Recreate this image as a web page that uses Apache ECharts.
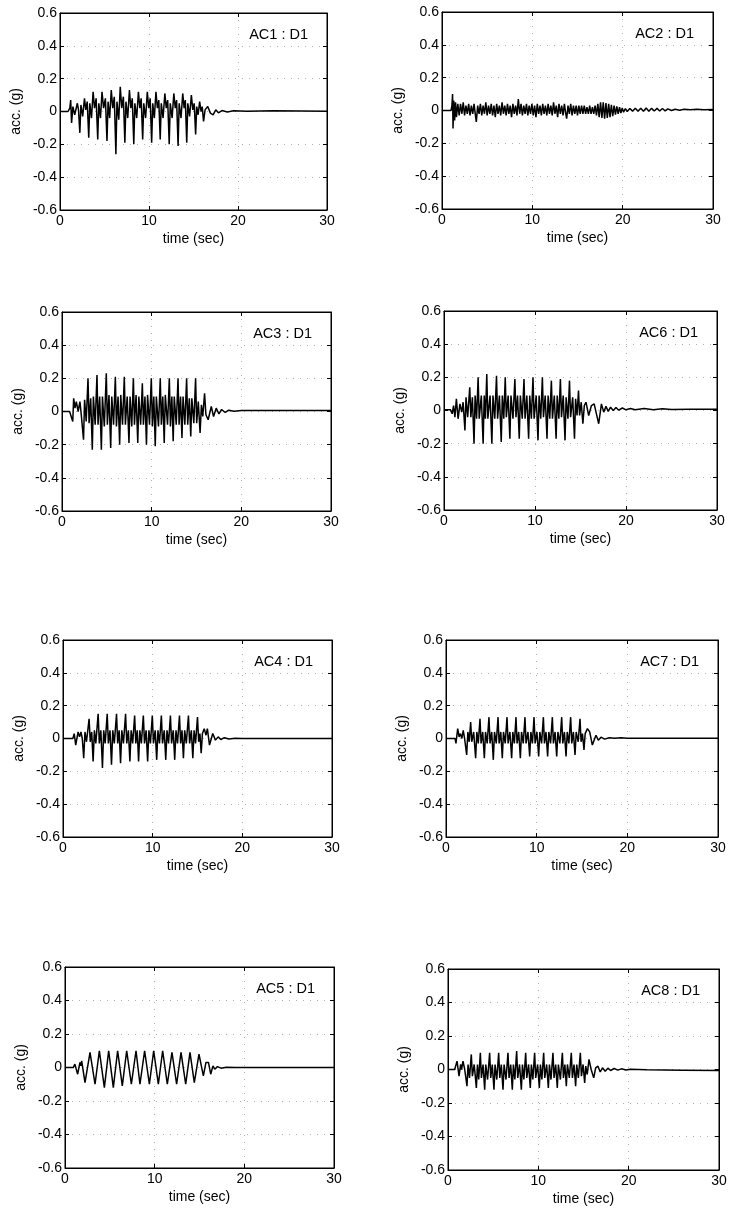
<!DOCTYPE html>
<html>
<head>
<meta charset="utf-8">
<title>acc time histories</title>
<script src="https://cdn.jsdelivr.net/npm/echarts@6/dist/echarts.min.js"></script>
<style>
html, body { margin: 0; padding: 0; background: #fff; }
#main { width: 742px; height: 1211px; }
</style>
</head>
<body>
<div id="main"></div>
<script>
// time (sec), acc. (g)
const ac1 = [[0,0],[0.9,0],[1.1,0.02],[1.2,0.07],[1.3,-0.07],[1.45,0.03],[1.65,-0.02],[1.95,0.05],[2.08,0.01],
  [2.23,-0.13],[2.35,0.04],[2.55,-0.03],[2.75,0.08],[2.9,0.01],[3.06,0.06],
  [3.23,-0.16],[3.35,0.05],[3.54,-0.04],[3.72,0.12],[3.88,0.02],[4.06,0.08],
  [4.24,-0.17],[4.36,0.05],[4.55,-0.04],[4.72,0.12],[4.9,0.02],[5.1,0.08],
  [5.28,-0.18],[5.4,0.06],[5.58,-0.04],[5.76,0.13],[5.93,0.02],[6.1,0.09],
  [6.28,-0.26],[6.4,0.06],[6.6,-0.05],[6.77,0.15],[6.94,0.02],[7.12,0.09],
  [7.29,-0.19],[7.41,0.06],[7.61,-0.04],[7.8,0.13],[7.96,0.02],[8.12,0.08],
  [8.29,-0.2],[8.41,0.05],[8.62,-0.04],[8.81,0.12],[8.97,0.02],[9.12,0.08],
  [9.29,-0.17],[9.41,0.05],[9.62,-0.04],[9.81,0.12],[9.97,0.02],[10.13,0.08],
  [10.3,-0.19],[10.42,0.05],[10.6,-0.04],[10.78,0.12],[10.94,0.02],[11.1,0.07],
  [11.26,-0.17],[11.38,0.05],[11.58,-0.04],[11.78,0.11],[11.94,0.02],[12.1,0.07],
  [12.27,-0.2],[12.39,0.05],[12.6,-0.04],[12.79,0.11],[12.95,0.02],[13.1,0.07],
  [13.27,-0.21],[13.39,0.05],[13.6,-0.04],[13.79,0.11],[13.95,0.02],[14.08,0.07],
  [14.24,-0.19],[14.36,0.05],[14.56,-0.03],[14.76,0.1],[14.92,0.01],[15.08,0.05],
  [15.24,-0.14],[15.36,0.03],[15.52,-0.02],[15.69,0.06],[15.85,0.0],[15.98,0.03],
  [16.13,-0.06],[16.3,0.01],[16.6,0.03],[16.9,-0.01],[17.2,-0.02],[17.5,0.01],[17.8,-0.008],[18.2,0.006],
  [18.8,-0.003],[19.5,0.004],[21,0.002],[24,0.004],[27,0.003],[30,0.002]];

const ac2 = [[0,0],[1.0,0],[1.1,0.03],[1.17,0.1],[1.22,-0.11],[1.3,0.06],[1.4,-0.06],[1.5,0.05],[1.6,-0.04],
  [1.75,0.04],[1.9,-0.03],[2.05,0.04],[2.2,-0.02],[2.35,0.05],[2.5,-0.03],[2.65,0.03],[2.8,-0.02],[2.95,0.04],
  [3.1,-0.03],[3.25,0.03],[3.4,-0.02],[3.55,0.04],[3.7,-0.03],[3.8,-0.07],[3.95,0.03],[4.1,-0.02],[4.25,0.04],
  [4.4,-0.03],[4.55,0.03],[4.7,-0.02],[4.85,0.05],[5.0,-0.03],[5.15,0.03],[5.3,-0.02],[5.45,0.04],[5.6,-0.03],
  [5.75,0.03],[5.9,-0.04],[6.05,0.04],[6.2,-0.02],[6.35,0.03],[6.5,-0.03],[6.65,0.05],[6.8,-0.02],[6.95,0.03],
  [7.1,-0.03],[7.25,0.04],[7.4,-0.02],[7.55,0.03],[7.7,-0.04],[7.85,0.04],[8.0,-0.02],[8.15,0.03],[8.3,-0.03],
  [8.45,0.07],[8.6,-0.02],[8.75,0.04],[8.9,-0.03],[9.05,0.03],[9.2,-0.02],[9.35,0.04],[9.5,-0.03],[9.65,0.03],
  [9.8,-0.02],[9.95,0.04],[10.1,-0.03],[10.25,0.03],[10.4,-0.04],[10.55,0.04],[10.7,-0.02],[10.85,0.03],
  [11.0,-0.03],[11.15,0.04],[11.3,-0.02],[11.45,0.03],[11.6,-0.03],[11.75,0.04],[11.9,-0.02],[12.05,0.03],
  [12.2,-0.03],[12.35,0.05],[12.5,-0.02],[12.65,0.03],[12.8,-0.04],[12.95,0.04],[13.1,-0.02],[13.25,0.03],
  [13.4,-0.03],[13.55,0.04],[13.7,-0.02],[13.8,-0.05],[13.95,0.03],[14.1,-0.02],[14.25,0.04],[14.4,-0.03],
  [14.55,0.03],[14.7,-0.02],[14.85,0.03],[15.0,-0.03],[15.15,0.03],[15.3,-0.02],[15.45,0.03],[15.6,-0.02],
  [15.75,0.03],[15.9,-0.02],[16.05,0.02],[16.2,-0.02],[16.35,0.03],[16.5,-0.02],[16.65,0.02],[16.8,-0.02],
  [16.95,0.03],[17.1,-0.03],[17.25,0.04],[17.4,-0.04],[17.55,0.05],[17.7,-0.045],[17.85,0.05],[18.0,-0.05],
  [18.15,0.045],[18.3,-0.045],[18.45,0.04],[18.6,-0.04],[18.75,0.035],[18.9,-0.035],[19.05,0.03],[19.2,-0.025],
  [19.35,0.025],[19.5,-0.02],[19.65,0.02],[19.8,-0.015],[19.95,0.015],[20.1,-0.01],[20.3,0.012],[20.5,-0.006],
  [20.8,0.012],[21.1,-0.004],[21.4,0.014],[21.7,-0.005],[22,0.014],[22.3,-0.004],[22.6,0.015],[22.9,-0.004],
  [23.2,0.014],[23.5,-0.003],[23.8,0.013],[24.1,-0.003],[24.4,0.012],[24.7,-0.002],[25,0.01],[25.4,0.0],
  [25.8,0.008],[26.3,0.002],[26.8,0.008],[27.5,0.004],[28.2,0.007],[29,0.005],[30,0.006]];

const ac3 = [[0,0],[0.85,0],[1.05,0.01],[1.2,-0.06],[1.3,0.08],[1.45,0.02],[1.6,0.06],[1.8,0.0],[2.0,0.06],[2.15,-0.02],
  [2.4,-0.17],[2.52,0.07],[2.7,-0.06],[2.9,0.2],[3.02,-0.07],[3.2,0.08],
  [3.38,-0.23],[3.5,0.09],[3.7,-0.08],[3.9,0.22],[4.02,-0.08],[4.2,0.09],
  [4.39,-0.23],[4.51,0.09],[4.72,-0.09],[4.94,0.23],[5.06,-0.08],[5.24,0.1],
  [5.43,-0.22],[5.55,0.09],[5.75,-0.08],[5.95,0.21],[6.07,-0.09],[6.25,0.09],
  [6.43,-0.2],[6.55,0.1],[6.75,-0.08],[6.95,0.21],[7.07,-0.08],[7.27,0.09],
  [7.47,-0.19],[7.59,0.09],[7.78,-0.09],[7.96,0.2],[8.08,-0.08],[8.26,0.1],
  [8.45,-0.19],[8.57,0.09],[8.77,-0.08],[8.96,0.17],[9.08,-0.08],[9.25,0.09],
  [9.42,-0.2],[9.54,0.1],[9.76,-0.08],[9.96,0.2],[10.08,-0.09],[10.24,0.09],
  [10.4,-0.21],[10.52,0.09],[10.76,-0.09],[10.96,0.2],[11.08,-0.08],[11.24,0.09],
  [11.4,-0.19],[11.52,0.1],[11.77,-0.08],[11.97,0.2],[12.09,-0.09],[12.25,0.09],
  [12.4,-0.18],[12.52,0.09],[12.74,-0.08],[12.94,0.2],[13.06,-0.08],[13.22,0.09],
  [13.38,-0.16],[13.5,0.09],[13.7,-0.08],[13.9,0.2],[14.02,-0.08],[14.2,0.08],
  [14.36,-0.15],[14.48,0.08],[14.7,-0.07],[14.9,0.2],[15.02,-0.07],[15.2,0.06],
  [15.4,-0.13],[15.55,0.04],[15.7,-0.03],[15.9,0.11],[16.05,-0.02],
  [16.3,-0.05],[16.65,0.03],[16.9,-0.03],[17.2,0.02],[17.5,-0.015],[17.8,0.012],[18.2,-0.006],[18.6,0.008],
  [19.2,0.002],[20,0.006],[23,0.006],[27,0.006],[30,0.006]];

const ac6 = [[0,0.005],[0.7,0.005],[0.9,-0.02],[1.05,0.03],[1.2,-0.04],[1.36,0.07],[1.55,-0.05],[1.75,0.04],[1.95,-0.01],[2.1,0.05],
  [2.3,-0.12],[2.42,0.08],[2.6,-0.04],[2.83,0.14],[2.95,-0.04],[3.12,0.08],
  [3.3,-0.2],[3.42,0.09],[3.58,-0.05],[3.75,0.2],[3.87,-0.05],[4.1,0.09],
  [4.3,-0.2],[4.42,0.09],[4.55,-0.05],[4.7,0.22],[4.82,-0.05],[5.06,0.09],
  [5.26,-0.2],[5.38,0.09],[5.58,-0.05],[5.77,0.21],[5.89,-0.05],[6.09,0.09],
  [6.29,-0.19],[6.41,0.09],[6.57,-0.05],[6.73,0.2],[6.85,-0.04],[7.05,0.09],
  [7.24,-0.17],[7.36,0.09],[7.58,-0.05],[7.79,0.19],[7.91,-0.04],[8.08,0.09],
  [8.27,-0.17],[8.39,0.09],[8.6,-0.05],[8.79,0.19],[8.91,-0.05],[9.1,0.09],
  [9.3,-0.17],[9.42,0.09],[9.6,-0.05],[9.78,0.2],[9.9,-0.05],[10.13,0.09],
  [10.33,-0.18],[10.45,0.09],[10.63,-0.05],[10.81,0.2],[10.93,-0.04],[11.12,0.09],
  [11.32,-0.17],[11.44,0.09],[11.62,-0.05],[11.8,0.18],[11.92,-0.05],[12.12,0.09],
  [12.32,-0.17],[12.44,0.09],[12.62,-0.05],[12.79,0.19],[12.91,-0.04],[13.1,0.09],
  [13.3,-0.18],[13.42,0.08],[13.62,-0.05],[13.79,0.18],[13.91,-0.04],[14.14,0.08],
  [14.34,-0.17],[14.46,0.07],[14.62,-0.03],[14.78,0.12],[14.9,-0.03],[15.08,0.05],
  [15.26,-0.08],[15.42,0.03],[15.6,0.05],[15.9,-0.03],[16.2,0.03],[16.5,0.04],[16.75,-0.02],[17.0,-0.08],
  [17.3,0.04],[17.55,-0.01],[17.8,0.025],[18.05,-0.005],[18.3,0.02],[18.6,0.0],[18.9,0.018],[19.2,0.002],
  [19.6,0.015],[20,0.004],[20.5,0.012],[21,0.004],[22,0.012],[23,0.005],[24,0.011],[25,0.006],[27,0.007],[30,0.007]];

const ac4 = [[0,0],[1.1,0],[1.25,0.03],[1.42,-0.04],[1.68,0.04],[1.85,0.01],[2.0,0.04],[2.15,0.0],
  [2.31,-0.12],[2.45,0.04],[2.62,-0.02],[2.91,0.12],[3.04,-0.02],[3.2,0.04],
  [3.36,-0.14],[3.5,0.05],[3.66,-0.03],[3.92,0.15],[4.05,-0.03],[4.22,0.05],
  [4.4,-0.18],[4.54,0.05],[4.7,-0.03],[4.93,0.15],[5.06,-0.03],[5.24,0.05],
  [5.41,-0.16],[5.55,0.05],[5.72,-0.03],[5.97,0.15],[6.1,-0.03],[6.26,0.05],
  [6.42,-0.15],[6.56,0.05],[6.74,-0.03],[6.98,0.15],[7.11,-0.03],[7.29,0.05],
  [7.46,-0.14],[7.6,0.05],[7.77,-0.03],[7.99,0.14],[8.12,-0.03],[8.28,0.05],
  [8.43,-0.14],[8.57,0.05],[8.74,-0.03],[8.96,0.14],[9.09,-0.03],[9.27,0.05],
  [9.44,-0.14],[9.58,0.05],[9.75,-0.03],[9.96,0.14],[10.09,-0.03],[10.28,0.05],
  [10.45,-0.13],[10.59,0.05],[10.76,-0.03],[10.97,0.14],[11.1,-0.03],[11.29,0.05],
  [11.46,-0.13],[11.6,0.05],[11.77,-0.03],[11.98,0.14],[12.11,-0.03],[12.29,0.05],
  [12.46,-0.13],[12.6,0.05],[12.77,-0.03],[12.99,0.14],[13.12,-0.03],[13.27,0.05],
  [13.43,-0.12],[13.57,0.05],[13.75,-0.03],[13.99,0.14],[14.12,-0.03],[14.31,0.05],
  [14.48,-0.12],[14.62,0.05],[14.78,-0.03],[15.0,0.13],[15.13,-0.02],[15.27,0.03],
  [15.41,-0.09],[15.55,0.03],[15.75,0.06],[15.95,0.02],[16.1,0.06],[16.34,-0.04],[16.7,0.03],[17.0,-0.01],
  [17.3,0.01],[17.6,-0.006],[18,0.005],[18.5,-0.003],[19.2,0.002],[20,0],[30,0]];

const ac7 = [[0,0],[1.0,0],[1.1,-0.03],[1.29,0.06],[1.45,0.01],[1.6,0.03],[1.75,0.0],[1.9,0.05],[2.05,0.0],
  [2.28,-0.1],[2.41,0.04],[2.56,-0.02],[2.72,0.1],[2.84,-0.02],[3.05,0.04],
  [3.27,-0.12],[3.4,0.04],[3.56,-0.03],[3.75,0.12],[3.87,-0.03],[4.05,0.04],
  [4.23,-0.12],[4.36,0.04],[4.54,-0.03],[4.74,0.13],[4.86,-0.03],[5.04,0.04],
  [5.22,-0.13],[5.35,0.04],[5.54,-0.03],[5.74,0.13],[5.86,-0.03],[6.04,0.04],
  [6.21,-0.12],[6.34,0.04],[6.53,-0.03],[6.73,0.13],[6.85,-0.03],[7.05,0.04],
  [7.24,-0.12],[7.37,0.04],[7.54,-0.03],[7.72,0.13],[7.84,-0.03],[8.02,0.04],
  [8.2,-0.12],[8.33,0.04],[8.52,-0.03],[8.71,0.13],[8.83,-0.03],[9.04,0.04],
  [9.23,-0.11],[9.36,0.04],[9.53,-0.03],[9.71,0.13],[9.83,-0.03],[10.03,0.04],
  [10.22,-0.11],[10.35,0.04],[10.54,-0.03],[10.74,0.13],[10.86,-0.03],[11.03,0.04],
  [11.21,-0.11],[11.34,0.04],[11.53,-0.03],[11.73,0.13],[11.85,-0.03],[12.03,0.04],
  [12.21,-0.11],[12.34,0.04],[12.56,-0.03],[12.76,0.13],[12.88,-0.03],[13.06,0.04],
  [13.24,-0.11],[13.37,0.04],[13.55,-0.03],[13.75,0.13],[13.87,-0.03],[14.05,0.04],
  [14.23,-0.1],[14.36,0.04],[14.58,-0.02],[14.78,0.12],[14.9,-0.02],[15.05,0.03],
  [15.22,-0.07],[15.35,0.03],[15.6,0.06],[15.85,0.04],[16.14,-0.04],[16.54,0.02],[16.8,-0.01],[17.1,0.008],
  [17.5,-0.004],[18,0.005],[18.6,0.002],[19.3,0.004],[20,0.001],[30,0.001]];

const ac5 = [[0,0],[0.93,0],[1.1,0.02],[1.41,-0.04],[1.67,0.03],[1.78,0.01],[1.86,0.04],
  [2.23,-0.09],[2.79,0.09],[3.35,-0.1],[3.83,0.1],[4.39,-0.12],[4.87,0.1],[5.39,-0.12],[5.87,0.1],
  [6.39,-0.11],[6.88,0.1],[7.4,-0.1],[7.92,0.1],[8.36,-0.1],[8.88,0.1],[9.41,-0.1],[9.89,0.1],
  [10.41,-0.1],[10.89,0.1],[11.41,-0.1],[11.93,0.09],[12.45,-0.1],[12.94,0.09],[13.46,-0.1],[13.94,0.09],
  [14.42,-0.09],[14.94,0.08],[15.43,-0.05],[15.72,0.03],[15.9,0.02],[16.0,0.03],[16.25,-0.04],[16.5,0.01],
  [16.7,-0.01],[17,0.005],[17.4,-0.004],[18,0.002],[19,0],[30,0]];

const ac8 = [[0,0],[0.74,0],[0.9,-0.01],[1.0,0.05],[1.22,-0.04],[1.4,0.03],[1.5,0.0],[1.66,0.05],[1.85,0.0],
  [2.1,-0.1],[2.22,0.03],[2.38,-0.05],[2.58,0.09],[2.7,-0.04],[2.9,0.03],
  [3.14,-0.11],[3.26,0.03],[3.4,-0.06],[3.58,0.1],[3.7,-0.05],[3.88,0.03],
  [4.06,-0.12],[4.18,0.03],[4.38,-0.06],[4.61,0.1],[4.73,-0.05],[4.9,0.03],
  [5.09,-0.12],[5.21,0.03],[5.4,-0.06],[5.61,0.1],[5.73,-0.05],[5.9,0.03],
  [6.09,-0.12],[6.21,0.03],[6.42,-0.06],[6.64,0.1],[6.76,-0.05],[6.94,0.03],
  [7.12,-0.12],[7.24,0.03],[7.4,-0.06],[7.6,0.11],[7.72,-0.05],[7.92,0.03],
  [8.12,-0.12],[8.24,0.03],[8.4,-0.06],[8.6,0.1],[8.72,-0.05],[8.92,0.03],
  [9.11,-0.11],[9.23,0.03],[9.39,-0.06],[9.59,0.1],[9.71,-0.05],[9.92,0.03],
  [10.11,-0.11],[10.23,0.03],[10.39,-0.06],[10.59,0.1],[10.71,-0.05],[10.92,0.03],
  [11.11,-0.11],[11.23,0.03],[11.4,-0.06],[11.62,0.1],[11.74,-0.05],[11.92,0.03],
  [12.1,-0.11],[12.22,0.03],[12.44,-0.06],[12.66,0.1],[12.78,-0.05],[12.94,0.03],
  [13.1,-0.1],[13.22,0.03],[13.43,-0.05],[13.65,0.1],[13.77,-0.05],[13.95,0.03],
  [14.13,-0.1],[14.25,0.03],[14.43,-0.05],[14.65,0.1],[14.77,-0.04],[14.95,0.03],
  [15.13,-0.08],[15.25,0.02],[15.41,-0.03],[15.61,0.06],[15.85,0.0],[16.13,-0.05],[16.35,0.01],[16.6,0.02],
  [16.85,-0.015],[17.1,0.01],[17.4,-0.01],[17.7,0.008],[18,-0.006],[18.4,0.006],[18.8,-0.004],[19.2,0.004],
  [19.7,-0.003],[20.2,0.002],[22,-0.002],[26,-0.004],[30,-0.006]];

const panelTitles = ['AC1 : D1', 'AC2 : D1', 'AC3 : D1', 'AC6 : D1', 'AC4 : D1', 'AC7 : D1', 'AC5 : D1', 'AC8 : D1'];
const panelData = [ac1, ac2, ac3, ac6, ac4, ac7, ac5, ac8];
const xRange = [0, 30];   // time (sec), ticks every 10
const yRange = [-0.6, 0.6]; // acc. (g), ticks every 0.2

// left, top, width, height of each plot box (px)
const boxes = [
  [60, 13, 267, 197], [442, 12, 271, 197],
  [62, 312, 269, 199], [444, 311, 273, 199],
  [63, 640, 269, 197], [446, 640, 272, 197],
  [65, 967, 269, 201], [448, 969, 271, 201]
];

const FONT = '"Liberation Sans", Arial, Helvetica, sans-serif';
const W = 742;

const chart = echarts.init(document.getElementById('main'), null, { renderer: 'canvas' });

const grid = [], xAxis = [], yAxis = [], series = [], title = [];
const tick = { show: true, inside: true, length: 4, lineStyle: { color: '#000', width: 1 } };
const dots = { show: true, lineStyle: { color: '#b0b0b0', width: 1, type: [1, 6] } };

boxes.forEach(function (b, i) {
  grid.push({ left: b[0], top: b[1], width: b[2], height: b[3], show: true, borderColor: '#000', borderWidth: 1 });

  xAxis.push({
    type: 'value', gridIndex: i, min: xRange[0], max: xRange[1], interval: 10, position: 'bottom',
    axisLine: { show: true, onZero: false, lineStyle: { color: '#000', width: 1 } },
    axisTick: tick,
    axisLabel: { color: '#000', fontSize: 14, fontFamily: FONT, margin: 4 },
    splitLine: dots,
    name: 'time (sec)', nameLocation: 'middle', nameGap: 22,
    nameTextStyle: { color: '#000', fontSize: 14, fontFamily: FONT }
  });
  xAxis.push({
    type: 'value', gridIndex: i, min: xRange[0], max: xRange[1], interval: 10, position: 'top',
    axisLine: { show: true, onZero: false, lineStyle: { color: '#000', width: 1 } },
    axisTick: tick, axisLabel: { show: false }, splitLine: { show: false }
  });

  yAxis.push({
    type: 'value', gridIndex: i, min: yRange[0], max: yRange[1], interval: 0.2, position: 'left',
    axisLine: { show: true, onZero: false, lineStyle: { color: '#000', width: 1 } },
    axisTick: tick,
    axisLabel: {
      color: '#000', fontSize: 14, fontFamily: FONT, margin: 3,
      formatter: function (v) { return String(Math.round(v * 10) / 10); }
    },
    splitLine: dots,
    name: 'acc. (g)', nameLocation: 'middle', nameGap: 37,
    nameTextStyle: { color: '#000', fontSize: 14, fontFamily: FONT }
  });
  yAxis.push({
    type: 'value', gridIndex: i, min: yRange[0], max: yRange[1], interval: 0.2, position: 'right',
    axisLine: { show: true, onZero: false, lineStyle: { color: '#000', width: 1 } },
    axisTick: tick, axisLabel: { show: false }, splitLine: { show: false }
  });

  series.push({
    type: 'line', xAxisIndex: i * 2, yAxisIndex: i * 2, data: panelData[i],
    showSymbol: false, symbol: 'none', silent: true, clip: true,
    lineStyle: { color: '#000', width: 1.5 }
  });

  title.push({
    text: panelTitles[i], right: W - (b[0] + b[2]) + 14, top: b[1] + 9,
    textStyle: { color: '#000', fontSize: 14.5, fontWeight: 'normal', fontFamily: FONT }
  });
});

chart.setOption({
  animation: false,
  backgroundColor: '#fff',
  title: title,
  grid: grid,
  xAxis: xAxis,
  yAxis: yAxis,
  series: series
});
</script>
</body>
</html>
